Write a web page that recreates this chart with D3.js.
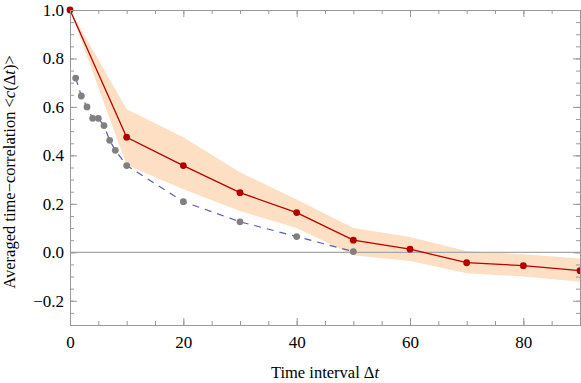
<!DOCTYPE html>
<html>
<head>
<meta charset="utf-8">
<script src="https://cdn.jsdelivr.net/npm/d3@7"></script>
<style>
  body { margin: 0; background: #fff; }
</style>
</head>
<body>
<div id="chart"></div>
<script>
// averaged time-correlation (red) with spread band
var lagT = [0, 10, 20, 30, 40, 50, 60, 70, 80, 90];
var corrMean = [1.0, 0.475, 0.358, 0.246, 0.164, 0.05, 0.013, -0.043, -0.055, -0.076];
var bandUpper = [1.0, 0.59, 0.475, 0.33, 0.218, 0.1, 0.063, 0.005, -0.008, -0.026];
var bandLower = [1.0, 0.36, 0.26, 0.17, 0.1, -0.012, -0.036, -0.086, -0.1, -0.122];

// gray points joined by dashed line
var grayT = [1, 2, 3, 4, 5, 6, 7, 8, 10, 20, 30, 40, 50];
var grayVal = [0.719, 0.645, 0.60, 0.553, 0.553, 0.523, 0.462, 0.421, 0.358, 0.209, 0.126, 0.065, 0.003];

var xTicks = [0, 20, 40, 60, 80];
var yTicks = [-0.2, 0, 0.2, 0.4, 0.6, 0.8, 1.0];

var W = 581, H = 383;
var m = {left: 70, right: 1, top: 10, bottom: 58};
var FONT = '"Liberation Serif", "Times New Roman", serif';

var svg = d3.select('#chart').append('svg')
    .attr('width', W).attr('height', H)
    .style('font-family', FONT);

var x = d3.scaleLinear().domain([0, 90]).range([m.left, W - m.right]);
var y = d3.scaleLinear().domain([-0.3, 1.0]).range([H - m.bottom, m.top]);

// band
var bandData = lagT.map((t, i) => ({t: t, lo: bandLower[i], hi: bandUpper[i]}));
svg.append('path')
    .datum(bandData)
    .attr('d', d3.area().x(d => x(d.t)).y0(d => y(d.lo)).y1(d => y(d.hi)))
    .style('fill', '#fddfc4');

// zero line
svg.append('line')
    .attr('x1', x(0)).attr('x2', x(90))
    .attr('y1', y(0)).attr('y2', y(0))
    .style('stroke', '#a6a6a6').style('stroke-width', 1.3);

// dashed gray series
var gray = grayT.map((t, i) => ({t: t, v: grayVal[i]}));
svg.append('path')
    .datum(gray)
    .attr('d', d3.line().x(d => x(d.t)).y(d => y(d.v)))
    .style('fill', 'none')
    .style('stroke', '#5a5ab8')
    .style('stroke-width', 1.2)
    .style('stroke-dasharray', '7,6');
svg.selectAll('.gdot').data(gray).enter().append('circle')
    .attr('class', 'gdot')
    .attr('cx', d => x(d.t)).attr('cy', d => y(d.v))
    .attr('r', 3.4)
    .style('fill', '#808080');

// red series
var red = lagT.map((t, i) => ({t: t, v: corrMean[i]}));
svg.append('path')
    .datum(red)
    .attr('d', d3.line().x(d => x(d.t)).y(d => y(d.v)))
    .style('fill', 'none')
    .style('stroke', '#b80000')
    .style('stroke-width', 1.3);
svg.selectAll('.rdot').data(red).enter().append('circle')
    .attr('class', 'rdot')
    .attr('cx', d => x(d.t)).attr('cy', d => y(d.v))
    .attr('r', 3.4)
    .style('fill', '#b00000');

// frame with inward ticks on all sides
var frameCol = '#999';
function styleAxis(g) {
    g.attr('font-family', null);
    g.select('.domain').style('stroke', frameCol);
    g.selectAll('.tick line').style('stroke', frameCol);
    g.selectAll('text').style('font-size', '17px').style('fill', '#000')
        .style('font-family', FONT);
}
var xMinor = d3.range(0, 91, 5);
var yMinor = d3.range(-0.3, 1.0001, 0.05);

function addFrame(axisFn, scale, major, minor, transform, labels, pad) {
    var g1 = svg.append('g').attr('transform', transform)
        .call(axisFn(scale).tickValues(minor).tickSize(-4).tickFormat(''));
    styleAxis(g1);
    var g2 = svg.append('g').attr('transform', transform)
        .call(axisFn(scale).tickValues(major).tickSizeInner(-7).tickSizeOuter(0)
            .tickPadding(pad).tickFormat(labels ? d3.format('.1f') : ''));
    styleAxis(g2);
    return g2;
}

var gx = addFrame(d3.axisBottom, x, xTicks, xMinor, 'translate(0,' + (H - m.bottom) + ')', true, 11);
gx.selectAll('text').text(d => d);
addFrame(d3.axisTop, x, xTicks, xMinor, 'translate(0,' + m.top + ')', false, 3);
var gy = addFrame(d3.axisLeft, y, yTicks, yMinor, 'translate(' + m.left + ',0)', true, 6);
gy.selectAll('text').text(d => d3.format('.1f')(d).replace('-', '\u2212'));
addFrame(d3.axisRight, y, yTicks, yMinor, 'translate(' + (W - m.right) + ',0)', false, 3);

// axis titles
var xt = svg.append('text')
    .attr('x', (m.left + W - m.right) / 2).attr('y', 378)
    .attr('text-anchor', 'middle')
    .style('font-size', '16.5px');
xt.append('tspan').text('Time interval \u0394');
xt.append('tspan').style('font-style', 'italic').text('t');

var yt = svg.append('text')
    .attr('transform', 'translate(15,172) rotate(-90)')
    .attr('text-anchor', 'middle')
    .style('font-size', '16.5px');
yt.append('tspan').text('Averaged time\u2212correlation <');
yt.append('tspan').style('font-style', 'italic').text('c');
yt.append('tspan').text('(\u0394');
yt.append('tspan').style('font-style', 'italic').text('t');
yt.append('tspan').text(')>');
</script>
</body>
</html>
